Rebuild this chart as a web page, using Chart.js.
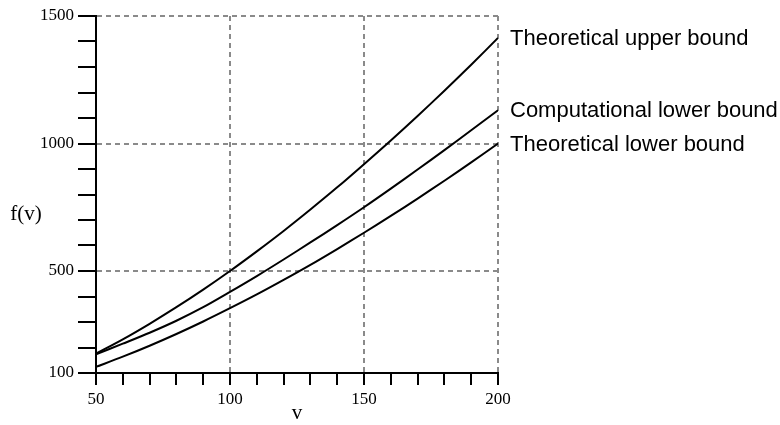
<!DOCTYPE html>
<html lang="en">
<head>
<meta charset="UTF-8">
<title>f(v) bounds</title>
<script src="https://cdn.jsdelivr.net/npm/chart.js"></script>
<style>
  html, body { margin: 0; padding: 0; background: #fff; }
  #wrap { width: 780px; height: 425px; }
</style>
</head>
<body>
<div id="wrap">
  <canvas id="boundChart" width="780" height="425"></canvas>
</div>
<script>
// values
var vValues = [50, 60, 70, 80, 90, 100, 110, 120, 130, 140, 150, 160, 170, 180, 190, 200];
var upperBound = [176, 232, 293, 358, 427, 500, 577, 657, 741, 828, 919, 1012, 1108, 1207, 1309, 1414];
var compLower = [173, 215, 258, 305, 358, 418, 480, 545, 612, 680, 750, 823, 898, 974, 1052, 1130];
var theoLower = [124, 164, 207, 253, 302, 354, 408, 465, 524, 586, 650, 716, 784, 854, 926, 1000];
var seriesNames = ['Theoretical upper bound', 'Computational lower bound', 'Theoretical lower bound'];
var xMajor = [100, 150, 200];
var yMajor = [500, 1000, 1500];
var xTickLabels = [50, 100, 150, 200];
var yTickLabels = [100, 500, 1000, 1500];

function toPoints(ys) {
    return vValues.map(function (v, i) { return { x: v, y: ys[i] }; });
}

function makeSet(name, ys) {
    return {
        label: name,
        data: toPoints(ys),
        borderColor: '#000',
        borderWidth: 2,
        pointRadius: 0,
        tension: 0.3,
        fill: false
    };
}

var gridGray = '#8a8a8a';
var clear = 'rgba(0,0,0,0)';
var serif = '"Liberation Serif", "Times New Roman", serif';

// labels next to line ends + axis titles
var textPlugin = {
    id: 'textPlugin',
    afterDraw: function (chart) {
        var ctx = chart.ctx;
        var area = chart.chartArea;
        var yScale = chart.scales.y;
        ctx.save();
        ctx.fillStyle = '#000';
        ctx.font = '22px "Liberation Sans", Arial, sans-serif';
        ctx.textAlign = 'left';
        ctx.textBaseline = 'middle';
        chart.data.datasets.forEach(function (ds) {
            var last = ds.data[ds.data.length - 1];
            ctx.fillText(ds.label, area.right + 12, yScale.getPixelForValue(last.y) + 1);
        });
        ctx.font = '21px ' + serif;
        ctx.textAlign = 'center';
        ctx.fillText('f(v)', 26, 214);
        ctx.fillText('v', (area.left + area.right) / 2, 413);
        ctx.restore();
    }
};

var chart = new Chart(document.getElementById('boundChart').getContext('2d'), {
    type: 'line',
    data: {
        datasets: [
            makeSet(seriesNames[0], upperBound),
            makeSet(seriesNames[1], compLower),
            makeSet(seriesNames[2], theoLower)
        ]
    },
    options: {
        responsive: false,
        animation: false,
        layout: { padding: { left: 0, right: 282, top: 16, bottom: 0 } },
        plugins: {
            legend: { display: false },
            tooltip: { enabled: false }
        },
        scales: {
            x: {
                type: 'linear',
                min: 50,
                max: 200,
                afterFit: function (s) { s.height = 52; },
                ticks: {
                    stepSize: 10,
                    autoSkip: false,
                    maxRotation: 0,
                    padding: 4,
                    color: '#000',
                    font: { family: serif, size: 17 },
                    callback: function (v) { return xTickLabels.indexOf(v) >= 0 ? v : ''; }
                },
                grid: {
                    color: function (c) { return c.tick && xMajor.indexOf(c.tick.value) >= 0 ? gridGray : clear; },
                    lineWidth: 2,
                    tickColor: '#000',
                    tickWidth: 2,
                    tickLength: 12
                },
                border: { color: '#000', width: 2, dash: [5, 4] }
            },
            y: {
                type: 'linear',
                min: 100,
                max: 1500,
                afterFit: function (s) { s.width = 96; },
                ticks: {
                    stepSize: 100,
                    autoSkip: false,
                    padding: 4,
                    color: '#000',
                    font: { family: serif, size: 17 },
                    callback: function (v) { return yTickLabels.indexOf(v) >= 0 ? v : ''; }
                },
                grid: {
                    color: function (c) { return c.tick && yMajor.indexOf(c.tick.value) >= 0 ? gridGray : clear; },
                    lineWidth: 2,
                    tickColor: '#000',
                    tickWidth: 2,
                    tickLength: 18
                },
                border: { color: '#000', width: 2, dash: [5, 4] }
            }
        }
    },
    plugins: [textPlugin]
});
</script>
</body>
</html>
